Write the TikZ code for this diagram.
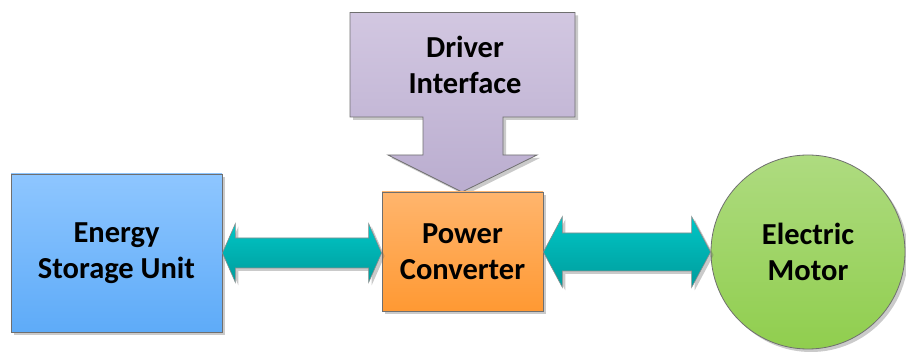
\documentclass[tikz,border=0pt]{standalone}
\usepackage{fontspec}
\setmainfont{Carlito}
\usetikzlibrary{calc,shadows}
\definecolor{purT}{HTML}{D2C7E1}
\definecolor{purB}{HTML}{BAADCF}
\definecolor{bluT}{HTML}{8EC6FF}
\definecolor{bluB}{HTML}{5EABF8}
\definecolor{orgT}{HTML}{FFB56D}
\definecolor{orgB}{HTML}{FF9933}
\definecolor{grnT}{HTML}{AEDB80}
\definecolor{grnB}{HTML}{90CE4E}
\definecolor{tealT}{HTML}{00C6C6}
\definecolor{tealB}{HTML}{009C9C}
\definecolor{edge}{HTML}{6F6F6F}
\newcommand\blockarr[5]{%
  \path[tealarrow] let \p1=(#1), \p2=(#2) in
  (\x1,\y1) -- (\x1+#3,\y1+#4) -- (\x1+#3,\y1+#5) -- (\x2-#3,\y1+#5) -- (\x2-#3,\y1+#4)
  -- (\x2,\y1) -- (\x2-#3,\y1-#4) -- (\x2-#3,\y1-#5) -- (\x1+#3,\y1-#5) -- (\x1+#3,\y1-#4) -- cycle;}
\begin{document}
\begin{tikzpicture}[x=1pt,y=-1pt,
  shad/.style={drop shadow={shadow xshift=3pt,shadow yshift=-3pt,opacity=0.35,fill=black!60}},
  blk/.style={draw=edge,line width=0.8pt,shad,align=center,inner sep=0pt,
    font=\fontsize{30.5}{36.5}\selectfont\bfseries},
  tealarrow/.style={draw=edge!80,line width=0.6pt,top color=tealT,bottom color=tealB,shad},
  txt/.style={align=center,font=\fontsize{30.5}{36.5}\selectfont\bfseries}]
\useasboundingbox (0,0) rectangle (906,352);
% driver interface callout
\path[draw=edge,line width=0.8pt,top color=purT,bottom color=purB,shad]
  (350,12.5) -- (575,12.5) -- (575,117) -- (503,117) -- (503,155) -- (537,155)
  -- (462,192) -- (388,155) -- (423,155) -- (423,117) -- (350,117) -- cycle;
\node[txt] (di) at (465,65) {Driver\\Interface};
% blocks
\node[blk,minimum width=211pt,minimum height=158pt,top color=bluT,bottom color=bluB]
  (esu) at (116.5,253) {Energy\\Storage Unit};
\node[blk,minimum width=161pt,minimum height=119pt,top color=orgT,bottom color=orgB]
  (pc) at (462.5,251.5) {Power\\Converter};
\node[blk,circle,minimum size=194pt,top color=grnT,bottom color=grnB]
  (mot) at (808,252) {Electric\\Motor};
% arrows
\blockarr{esu.east}{pc.west |- esu.east}{13pt}{29.5pt}{15pt}
\blockarr{pc.east |- mot.west}{mot.west}{19pt}{35.5pt}{19pt}
\end{tikzpicture}
\end{document}
